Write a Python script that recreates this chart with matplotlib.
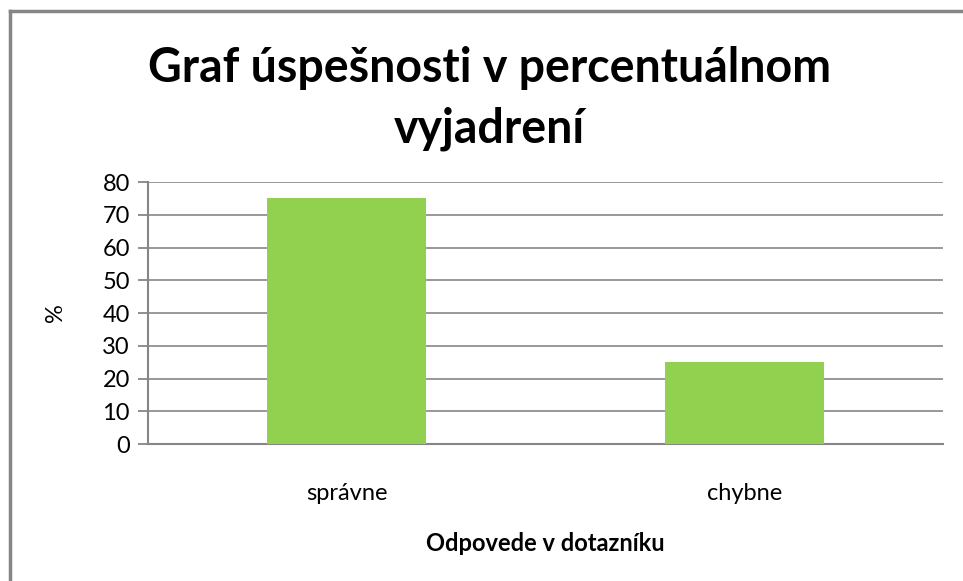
import matplotlib.pyplot as plt
from matplotlib.lines import Line2D

# data
categories = ["správne", "chybne"]
values = [75, 25]
yticks = [0, 10, 20, 30, 40, 50, 60, 70, 80]

title = "Graf úspešnosti v percentuálnom\nvyjadrení"
xlabel = "Odpovede v dotazníku"
ylabel = "%"

plt.rcParams["font.family"] = ["Lato", "DejaVu Sans"]

fig = plt.figure(figsize=(9.63, 5.81), dpi=100)
ax = fig.add_axes([0.1537, 0.2358, 0.8255, 0.4509])

grid_col = "#868686"
ax.bar(range(len(categories)), values, width=0.4, color="#92D050", zorder=3)
ax.set_xlim(-0.5, len(categories) - 0.5)
ax.set_ylim(0, 80)
ax.set_yticks(yticks)
ax.set_xticks(range(len(categories)))
ax.set_xticklabels(categories, fontsize=17)
ax.tick_params(axis="y", labelsize=17, length=7, width=1.3, color=grid_col, pad=6)
ax.tick_params(axis="x", length=0, pad=28)
ax.yaxis.grid(True, color=grid_col, linewidth=1.2, zorder=0)
for s in ["top", "right"]:
    ax.spines[s].set_visible(False)
ax.spines["left"].set_color(grid_col)
ax.spines["left"].set_linewidth(1.5)
ax.spines["bottom"].set_color(grid_col)
ax.spines["bottom"].set_linewidth(1.5)

ax.set_ylabel(ylabel, fontsize=17, labelpad=26)
ax.set_xlabel(xlabel, fontsize=17, fontweight="bold", labelpad=20)

fig.text(0.508, 0.92, title, ha="center", va="top", fontsize=33.5,
         fontweight="bold", linespacing=1.45)

# outer chart border (only left and top visible)
fig.add_artist(Line2D([10 / 963, 10 / 963], [0, 1 - 11 / 581], color=grid_col, lw=2.5))
fig.add_artist(Line2D([10 / 963, 1], [1 - 11 / 581, 1 - 11 / 581], color=grid_col, lw=2.5))

fig.savefig("out.png", dpi=100)
